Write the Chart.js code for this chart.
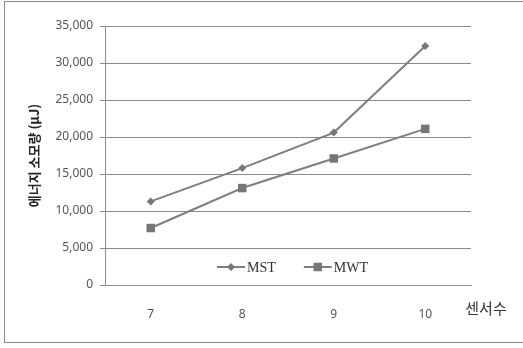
<!DOCTYPE html>
<html>
<head>
<meta charset="utf-8">
<script src="https://cdn.jsdelivr.net/npm/chart.js@4"></script>
<style>
  html, body { margin:0; padding:0; background:#fff; }
  #wrap { position:relative; width:523px; height:348px; }
  #frame { position:absolute; left:4px; top:1px; width:530px; height:342px; border:1px solid #8a8a8a; box-sizing:border-box; }
  canvas { position:absolute; left:0; top:0; }
</style>
</head>
<body>
<div id="wrap">
  <div id="frame"></div>
  <canvas id="c" width="523" height="348"></canvas>
</div>
<script>
// sensor count on x, energy (uJ) on y
const sensors = ['7', '8', '9', '10'];
const mst = [11300, 15800, 20600, 32300];
const mwt = [7700, 13100, 17100, 21100];
const yTitle = '에너지 소모량 (μJ)';
const xTitle = '센서수';

const lineGray = '#7f7f7f';
const markGray = '#777';
const gridGray = '#8c8c8c';

// legend sits inside the plot, just above the x axis
const innerLegend = {
  id: 'innerLegend',
  afterDraw(chart) {
    const { ctx, chartArea } = chart;
    const y = chartArea.bottom - 18;
    let x = chartArea.left + 112;
    ctx.save();
    ctx.font = '14px "Liberation Serif"';
    ctx.textBaseline = 'middle';
    chart.data.datasets.forEach(ds => {
      ctx.strokeStyle = ds.borderColor;
      ctx.lineWidth = 2;
      ctx.beginPath(); ctx.moveTo(x, y); ctx.lineTo(x + 28, y); ctx.stroke();
      ctx.fillStyle = ds.pointBackgroundColor;
      ctx.lineWidth = 0;
      Chart.helpers.drawPoint(ctx, { pointStyle: ds.pointStyle, radius: ds.pointRadius, borderWidth: 0 }, x + 14, y);
      ctx.fillStyle = '#333';
      ctx.fillText(ds.label, x + 30, y + 1);
      x += 30 + ctx.measureText(ds.label).width + 28;
    });
    ctx.restore();
  }
};

// "센서수" to the right of the last category label
const sideTitle = {
  id: 'sideTitle',
  afterDraw(chart) {
    const { ctx, chartArea } = chart;
    ctx.save();
    ctx.font = '15px "Noto Sans CJK KR"';
    ctx.fillStyle = '#333';
    ctx.textAlign = 'center';
    ctx.textBaseline = 'middle';
    ctx.fillText(xTitle, chartArea.right + 15, chartArea.bottom + 23);
    ctx.restore();
  }
};

new Chart(document.getElementById('c'), {
  type: 'line',
  data: {
    labels: sensors,
    datasets: [
      { label:'MST', data:mst, borderColor:lineGray, backgroundColor:markGray,
        pointBackgroundColor:markGray, pointBorderWidth:0, borderWidth:2,
        pointStyle:'rectRot', pointRadius:4, tension:0 },
      { label:'MWT', data:mwt, borderColor:lineGray, backgroundColor:markGray,
        pointBackgroundColor:markGray, pointBorderWidth:0, borderWidth:2,
        pointStyle:'rect', pointRadius:6, tension:0 },
    ]
  },
  options: {
    responsive: false,
    animation: false,
    devicePixelRatio: 1,
    layout: { padding: { left:26, top:26, right:52, bottom:0 } },
    plugins: { legend:{ display:false }, tooltip:{ enabled:false } },
    scales: {
      x: {
        offset: true,
        grid: { display:false, offset:true },
        border: { color:gridGray, width:1 },
        ticks: { color:'#555', font:{ family:'Noto Sans', size:12 }, padding:14 },
        afterFit(s) { s.height = 63; },
      },
      y: {
        min: 0, max: 35000,
        ticks: { stepSize:5000, color:'#555', font:{ family:'Noto Sans', size:12 }, padding:7,
                 callback: v => v.toLocaleString('en-US') },
        grid: { color:gridGray, tickLength:5 },
        border: { color:gridGray, width:1 },
        title: { display:true, text:yTitle, color:'#222',
                 font:{ family:'Noto Sans CJK KR', size:13, weight:'bold' }, padding:0 },
        afterFit(s) { s.width = 79; },
      }
    }
  },
  plugins: [innerLegend, sideTitle]
});
</script>
</body>
</html>
